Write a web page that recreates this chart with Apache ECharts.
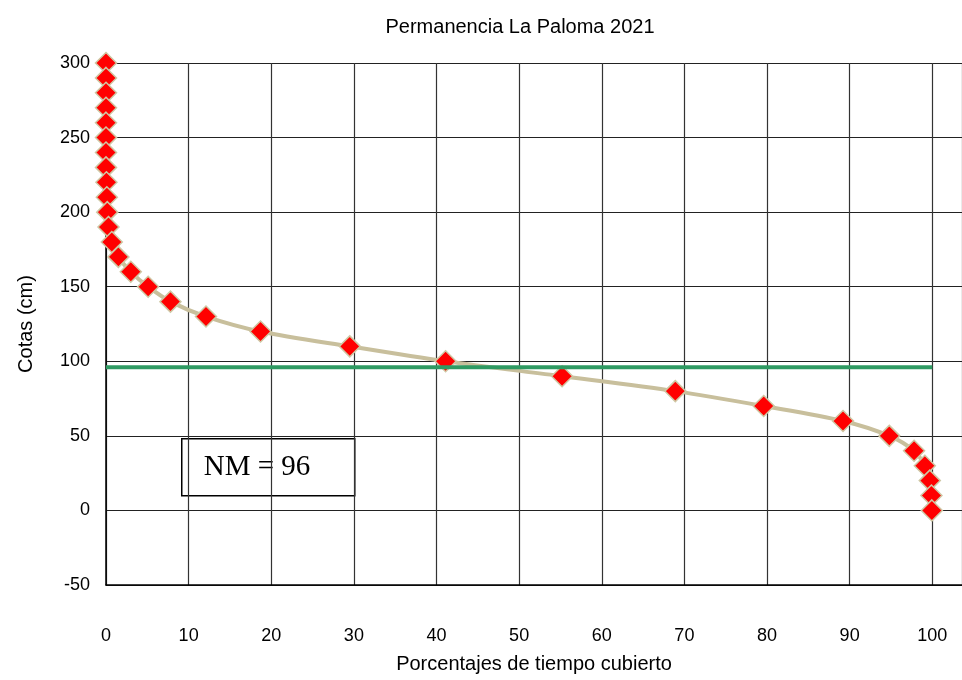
<!DOCTYPE html>
<html lang="es">
<head>
    <meta charset="UTF-8">
    <title>Permanencia La Paloma 2021</title>
</head>
<body style="margin:0">
<div id="chart" style="width: 962px;height: 680px"></div>
<script src="https://cdn.jsdelivr.net/npm/echarts@6/dist/echarts.min.js"></script>
<script>
    // cotas (cm) y porcentaje de tiempo cubierto
    const cotas = [300, 290, 280, 270, 260, 250, 240, 230, 220, 210, 200, 190, 180, 170, 160, 150, 140, 130, 120, 110, 100, 90, 80, 70, 60, 50, 40, 30, 20, 10, 0]
    const porcentajes = [0, 0, 0, 0, 0, 0, 0, 0, 0.05, 0.1, 0.15, 0.3, 0.7, 1.5, 3.0, 5.1, 7.8, 12.1, 18.7, 29.5, 41.1, 55.2, 68.9, 79.6, 89.2, 94.8, 97.8, 99.1, 99.7, 99.9, 99.95]
    const nm = 96
    const nmRange = [0, 100]

    const dom = document.getElementById("chart")
    const chart = echarts.init(dom)
    const font = 'Liberation Sans, Arial, sans-serif'

    chart.setOption({
        animation: false,
        title: {
            text: 'Permanencia La Paloma 2021',
            left: 515, top: 12, textAlign: 'center',
            textStyle: {fontFamily: font, fontSize: 20, fontWeight: 'normal', color: '#000'}
        },
        grid: {left: 106, right: 0, top: 63, bottom: 95, outerBoundsMode: 'none', containLabel: false},
        xAxis: {
            type: 'value', min: 0, max: 103.6, interval: 10,
            name: 'Porcentajes de tiempo cubierto', nameLocation: 'middle', nameGap: 69,
            nameTextStyle: {fontFamily: font, fontSize: 20, color: '#000'},
            axisLine: {show: true, onZero: false, lineStyle: {color: '#000', width: 1.5}},
            axisTick: {show: false},
            axisLabel: {fontFamily: font, fontSize: 18, color: '#000', margin: 42, showMaxLabel: false},
            splitLine: {show: true, lineStyle: {color: '#333', width: 1.2}}
        },
        yAxis: {
            type: 'value', min: -50, max: 300, interval: 50,
            name: 'Cotas (cm)', nameLocation: 'middle', nameGap: 70, nameRotate: 90,
            nameTextStyle: {fontFamily: font, fontSize: 20, color: '#000'},
            axisLine: {show: true, onZero: false, lineStyle: {color: '#000', width: 1.5}},
            axisTick: {show: false},
            axisLabel: {fontFamily: font, fontSize: 18, color: '#000', margin: 16},
            splitLine: {show: true, lineStyle: {color: '#222', width: 1.2}}
        },
        series: [
            {
                type: 'line',
                data: porcentajes.map((p, i) => [p, cotas[i]]),
                smooth: 0.3,
                symbol: 'diamond',
                symbolSize: 21,
                lineStyle: {color: '#c8bf9c', width: 4},
                itemStyle: {color: '#ff0000', borderColor: '#cfc7a4', borderWidth: 1.5},
                z: 3
            },
            {
                type: 'line',
                data: nmRange.map(x => [x, nm]),
                symbol: 'none',
                lineStyle: {color: '#2e9a62', width: 4},
                z: 4
            }
        ],
        graphic: [
            {
                type: 'group', left: 181, top: 438, z: 10,
                children: [
                    {type: 'rect', shape: {x: 0, y: 0, width: 173, height: 57},
                        style: {fill: '#fff', stroke: '#000', lineWidth: 1.5}},
                    {type: 'text', x: 22, y: 14,
                        style: {text: 'NM = 96', fontFamily: 'Liberation Serif, Times New Roman, serif', fontSize: 29, fill: '#000'}}
                ]
            }
        ]
    })
</script>
</body>
</html>
